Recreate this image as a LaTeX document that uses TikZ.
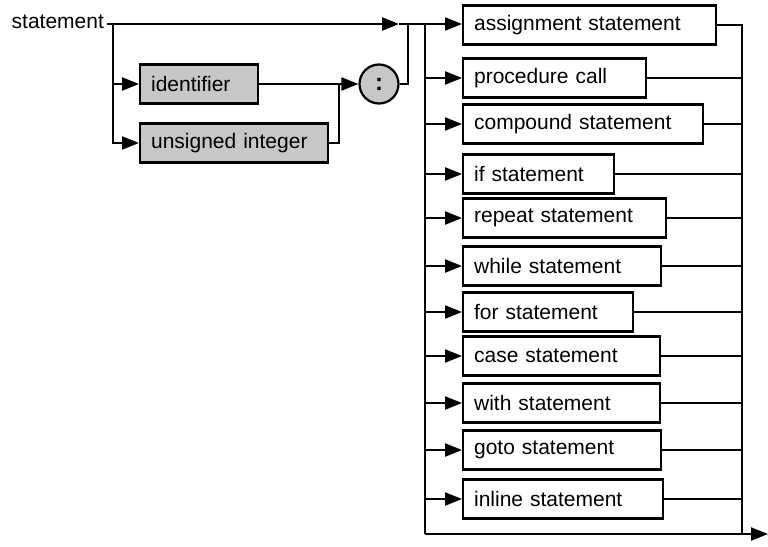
\documentclass[tikz,border=0pt]{standalone}
\usepackage{fontspec}
\setmainfont{Liberation Sans}
\usetikzlibrary{arrows.meta}
\begin{document}
\begin{tikzpicture}[x=1pt,y=-1pt,line width=2.2pt,
  arr/.style={-{Triangle[length=17pt,width=13pt]}},
  lbl/.style={font=\fontsize{21}{24}\selectfont},
  stbox/.style={draw,line width=2.2pt,minimum height=39pt,inner xsep=11pt,inner ysep=0pt,anchor=west,align=left,font=\fontsize{21}{24}\selectfont},
  shbox/.style={stbox,fill=black!22}]
\useasboundingbox (0,0) rectangle (768,546);
% title
\node[lbl,anchor=east,inner sep=0pt] (title) at (105,22) {statement};
% label part
\node[shbox,text width=96pt] (ident) at (139,84) {identifier};
\node[shbox,text width=166pt] (uint) at (139,143) {unsigned integer};
\node[draw,circle,fill=black!22,minimum size=39pt,inner sep=0pt,font=\fontsize{24}{26}\selectfont\bfseries] (colon) at (379,84) {:};
% statement boxes
\node[stbox,text width=231pt] (assign) at (462,25) {assignment statement};
\node[stbox,text width=161pt] (proc) at (462,78) {procedure call};
\node[stbox,text width=218pt] (comp) at (462,124) {compound statement};
\node[stbox,text width=129pt] (ifs) at (462,174) {if statement};
\node[stbox,text width=181pt] (rep) at (462,218) {repeat statement};
\node[stbox,text width=176pt] (whl) at (462,266) {while statement};
\node[stbox,text width=148pt] (fors) at (462,312) {for statement};
\node[stbox,text width=175pt] (cases) at (462,356) {case statement};
\node[stbox,text width=175pt] (with) at (462,403) {with statement};
\node[stbox,text width=176pt] (gotos) at (462,450) {goto statement};
\node[stbox,text width=178pt] (inl) at (462,499) {inline statement};
% junction coordinates
\coordinate (jL) at (113,24);
\coordinate (a1) at (399,24);
\coordinate (jR) at (408,24);
\coordinate (bL) at (425,24);
\coordinate (m1) at (339,84);
\coordinate (bot) at (425,534);
\coordinate (bR) at (742,534);
\coordinate (exit) at (768,534);
\coordinate (tstart) at (107,24);
% connectors: label part
\draw[arr] (tstart) -- (a1);
\draw (a1) -- (bL);
\draw[arr] (jL) |- (ident.west);
\draw[arr] (jL) |- (uint.west);
\draw[arr] (ident.east) -- (colon.west);
\draw (uint.east) -| (m1);
\draw (colon.east) -| (jR);
% statement alternatives
\draw[arr] (bL) -- (bL -| assign.west);
\draw (bL) -- (bot);
\foreach \n in {proc,comp,ifs,rep,whl,fors,cases,with,gotos,inl}{
  \draw[arr] (bL |- \n.west) -- (\n.west);
  \draw (\n.east) -- (bR |- \n.east);
}
\draw (assign.east) -| (bR);
\draw[arr] (bot) -- (exit);
\end{tikzpicture}
\end{document}
